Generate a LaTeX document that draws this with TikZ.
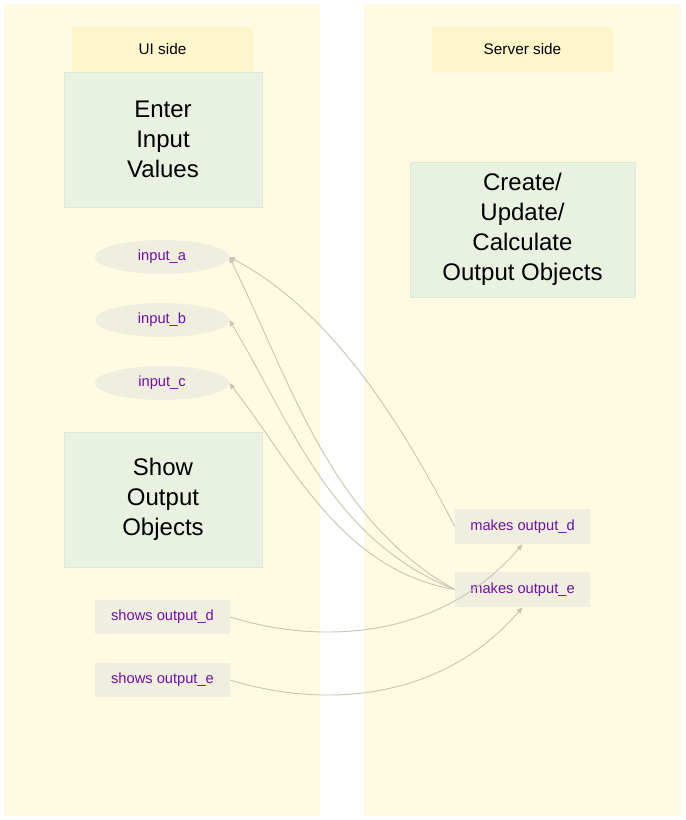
\documentclass[tikz,border=0pt]{standalone}
\usepackage{fontspec}
\setmainfont{Liberation Sans}
\usetikzlibrary{shapes.geometric,arrows.meta}
\definecolor{panel}{HTML}{FFFBE3}
\definecolor{lbl}{HTML}{FFF7CC}
\definecolor{grn}{HTML}{E9F1E1}
\definecolor{grnline}{HTML}{DCEAD3}
\definecolor{node}{HTML}{F0EEDF}
\definecolor{edge}{HTML}{CBC6B3}
\definecolor{txt}{RGB}{112,16,168}
\tikzset{
  panelbox/.style={fill=panel,draw=none},
  lblbox/.style={fill=lbl,draw=none,inner sep=0,minimum width=181*0.75pt,minimum height=45*0.75pt,font=\fontsize{11.5}{13}\selectfont},
  bigbox/.style={fill=grn,draw=grnline,line width=0.5pt,inner sep=0,minimum height=135*0.75pt,align=center,font=\fontsize{18}{22.5}\selectfont},
  inell/.style={ellipse,fill=node,draw=none,inner sep=0,minimum width=134*0.75pt,minimum height=34*0.75pt,text=txt,font=\fontsize{11}{12}\selectfont},
  smallbox/.style={fill=node,draw=none,inner sep=0,minimum width=135*0.75pt,minimum height=34*0.75pt,text=txt,font=\fontsize{11}{12}\selectfont},
  conn/.style={draw=edge,line width=0.7pt},
  tip/.style={-{Triangle[length=4.5pt,width=3.8pt]}},
}
\begin{document}
\begin{tikzpicture}[x=0.75pt,y=-0.75pt]
\useasboundingbox[fill=white] (0,0) rectangle (685,820);
\fill[panelbox] (4,4) rectangle (320,816);
\fill[panelbox] (364,4) rectangle (681,816);
\node[lblbox] (uil) at (162.5,49.5) {UI side};
\node[lblbox] (srvl) at (522.5,49.5) {Server side};
\node[bigbox,minimum width=198*0.75pt] (enter) at (163,139.5) {Enter\\Input\\Values};
\node[bigbox,minimum width=225*0.75pt] (create) at (522.5,229.5) {Create/\\Update/\\Calculate\\Output Objects};
\node[bigbox,minimum width=198*0.75pt] (show) at (163,499.5) {Show\\Output\\Objects};
\node[inell] (ina) at (162,257) {input\_a};
\node[inell] (inb) at (162,320) {input\_b};
\node[inell] (inc) at (162,383) {input\_c};
\node[smallbox,minimum height=35*0.75pt] (mkd) at (522.5,526.5) {makes output\_d};
\node[smallbox,minimum height=35*0.75pt] (mke) at (522.5,589.5) {makes output\_e};
\node[smallbox] (shd) at (162.5,617) {shows output\_d};
\node[smallbox] (she) at (162.5,680) {shows output\_e};
\draw[conn,tip] (mkd.west) .. controls (400,420) and (330,310) .. (ina.east);
\draw[conn,tip] (mke.west) .. controls (330,520) and (290,380) .. (ina.east);
\draw[conn,tip] (mke.west) .. controls (330,540) and (290,420) .. (inb.east);
\draw[conn,tip] (mke.west) .. controls (340,570) and (290,460) .. (inc.east);
\draw[conn,tip] (shd.east) .. controls (320,645) and (440,640) .. (mkd.south);
\draw[conn,tip] (she.east) .. controls (320,708) and (440,703) .. (mke.south);
\end{tikzpicture}
\end{document}
